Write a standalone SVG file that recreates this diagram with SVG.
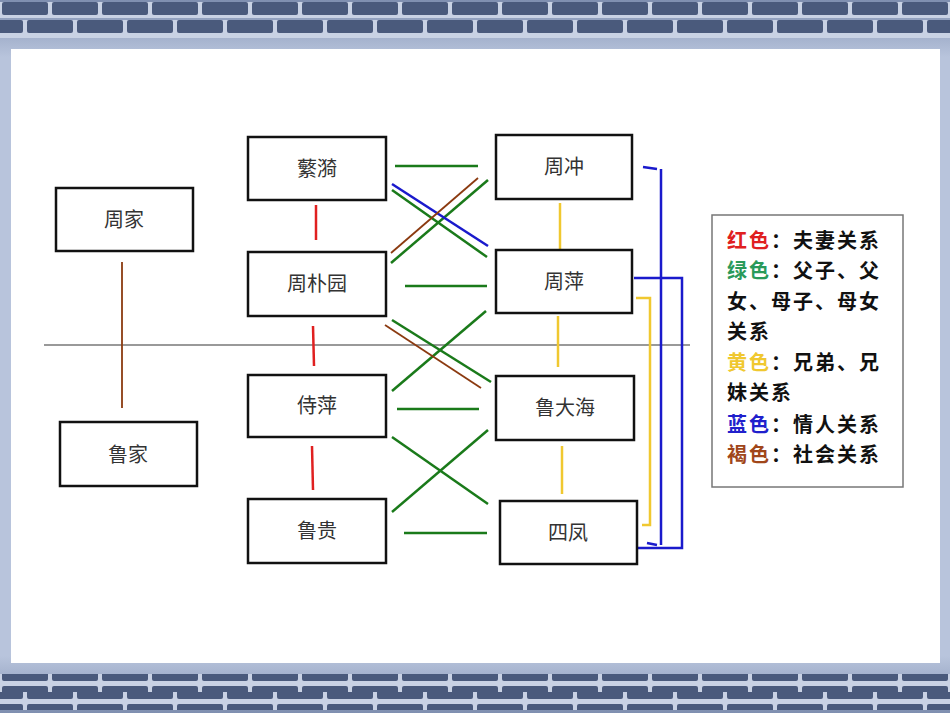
<svg xmlns="http://www.w3.org/2000/svg" width="950" height="713" viewBox="0 0 950 713">
<defs>
<linearGradient id="bg" x1="0" y1="0" x2="0" y2="1"><stop offset="0" stop-color="#7f8fb0"/><stop offset="0.08" stop-color="#b8c4dc"/><stop offset="0.92" stop-color="#b8c4dc"/><stop offset="1" stop-color="#7f8fb0"/></linearGradient>
<pattern id="brick" width="100" height="18" patternUnits="userSpaceOnUse">
<rect width="100" height="18" fill="#c9d2e4"/>
<rect x="2" y="2" width="46" height="13" rx="2" fill="#4a5a7c"/>
<rect x="52" y="2" width="46" height="13" rx="2" fill="#4a5a7c"/>
</pattern>
<pattern id="brick2" width="100" height="18" patternUnits="userSpaceOnUse" patternTransform="translate(25 0)">
<rect width="100" height="18" fill="#c9d2e4"/>
<rect x="2" y="2" width="46" height="13" rx="2" fill="#4a5a7c"/>
<rect x="52" y="2" width="46" height="13" rx="2" fill="#4a5a7c"/>
</pattern>
</defs>
<style>
.box{fill:#fff;stroke:#111;stroke-width:2.5}
.t{font-family:"Noto Sans CJK SC",sans-serif;font-size:20px;fill:#333;text-anchor:middle}
.g{stroke:#1a7a1a;stroke-width:2.5}
.r{stroke:#e02020;stroke-width:2.5}
.y{stroke:#f0c830;stroke-width:2.5;fill:none}
.b{stroke:#1a1acc;stroke-width:2.5;fill:none}
.br{stroke:#8b3a10;stroke-width:1.8}
.lg{font-family:"Noto Sans CJK SC",sans-serif;font-size:20px;font-weight:bold;fill:#111;letter-spacing:2px}
</style>
<rect width="950" height="713" fill="url(#bg)"/>
<rect x="0" y="2" width="950" height="16" fill="url(#brick)"/>
<rect x="0" y="20" width="950" height="18" fill="url(#brick2)"/>
<rect x="0" y="674" width="950" height="18" fill="url(#brick)"/>
<rect x="0" y="692" width="950" height="18" fill="url(#brick2)"/>
<rect x="11" y="49" width="929" height="614" fill="#fff"/>
<line x1="44" y1="345" x2="690" y2="345" stroke="#777" stroke-width="1.5"/>
<g id="connectors">
<line class="br" x1="122" y1="262" x2="122" y2="408"/>
<line class="r" x1="316" y1="205" x2="316" y2="240"/>
<line class="r" x1="313" y1="326" x2="314" y2="366"/>
<line class="r" x1="312" y1="446" x2="313" y2="490"/>
<line class="g" x1="395" y1="166" x2="478" y2="166"/>
<line class="g" x1="405" y1="286" x2="487" y2="286"/>
<line class="g" x1="397" y1="409" x2="479" y2="409"/>
<line class="g" x1="404" y1="533" x2="487" y2="533"/>
<line class="g" x1="391" y1="263" x2="488" y2="180"/>
<line class="g" x1="392" y1="190" x2="487" y2="257"/>
<line class="b" x1="392" y1="184" x2="488" y2="246"/>
<line class="br" x1="391" y1="253" x2="478" y2="178"/>
<line class="g" x1="392" y1="391" x2="486" y2="311"/>
<line class="g" x1="392" y1="320" x2="491" y2="382"/>
<line class="br" x1="385" y1="325" x2="481" y2="388"/>
<line class="g" x1="392" y1="512" x2="488" y2="430"/>
<line class="g" x1="392" y1="437" x2="488" y2="504"/>
<line class="y" x1="560" y1="203" x2="560" y2="250"/>
<line class="y" x1="558" y1="316" x2="558" y2="367"/>
<line class="y" x1="562" y1="446" x2="562" y2="494"/>
<polyline class="y" points="636,298 650,298 650,525 642,525"/>
<polyline class="b" points="643,167 657,169"/>
<line class="b" x1="661" y1="169" x2="661" y2="545"/>
<polyline class="b" points="647,543 657,545"/>
<polyline class="b" points="634,278 682,278 682,548 634,548"/>
</g>
<g id="zhoujia"><rect class="box" x="56" y="188" width="137" height="63"/><text class="t" x="124" y="227">周家</text></g>
<g id="lujia"><rect class="box" x="60" y="422" width="137" height="64"/><text class="t" x="128" y="462">鲁家</text></g>
<g id="fanyi"><rect class="box" x="248" y="137" width="138" height="63"/><text class="t" x="317" y="176">蘩漪</text></g>
<g id="zhoupuyuan"><rect class="box" x="248" y="252" width="138" height="64"/><text class="t" x="317" y="291">周朴园</text></g>
<g id="shiping"><rect class="box" x="248" y="375" width="138" height="62"/><text class="t" x="317" y="413">侍萍</text></g>
<g id="gui"><rect class="box" x="248" y="499" width="138" height="64"/><text class="t" x="317" y="538">鲁贵</text></g>
<g id="zhouchong"><rect class="box" x="496" y="135" width="136" height="64"/><text class="t" x="564" y="174">周冲</text></g>
<g id="zhouping"><rect class="box" x="496" y="250" width="136" height="63"/><text class="t" x="564" y="289">周萍</text></g>
<g id="dahai"><rect class="box" x="496" y="376" width="138" height="64"/><text class="t" x="565" y="415">鲁大海</text></g>
<g id="sifeng"><rect class="box" x="500" y="501" width="137" height="63"/><text class="t" x="568" y="540">四凤</text></g>
<g id="legend">
<rect x="712" y="215" width="191" height="272" fill="#fff" stroke="#777" stroke-width="1.5"/>
<text class="lg" x="727" y="248"><tspan fill="#e02020">红色</tspan>：夫妻关系</text>
<text class="lg" x="727" y="278"><tspan fill="#2a9a5a">绿色</tspan>：父子、父</text>
<text class="lg" x="727" y="309">女、母子、母女</text>
<text class="lg" x="727" y="339">关系</text>
<text class="lg" x="727" y="370"><tspan fill="#f0c830">黄色</tspan>：兄弟、兄</text>
<text class="lg" x="727" y="400">妹关系</text>
<text class="lg" x="727" y="432"><tspan fill="#2020cc">蓝色</tspan>：情人关系</text>
<text class="lg" x="727" y="462"><tspan fill="#a0461a">褐色</tspan>：社会关系</text>
</g>
</svg>
